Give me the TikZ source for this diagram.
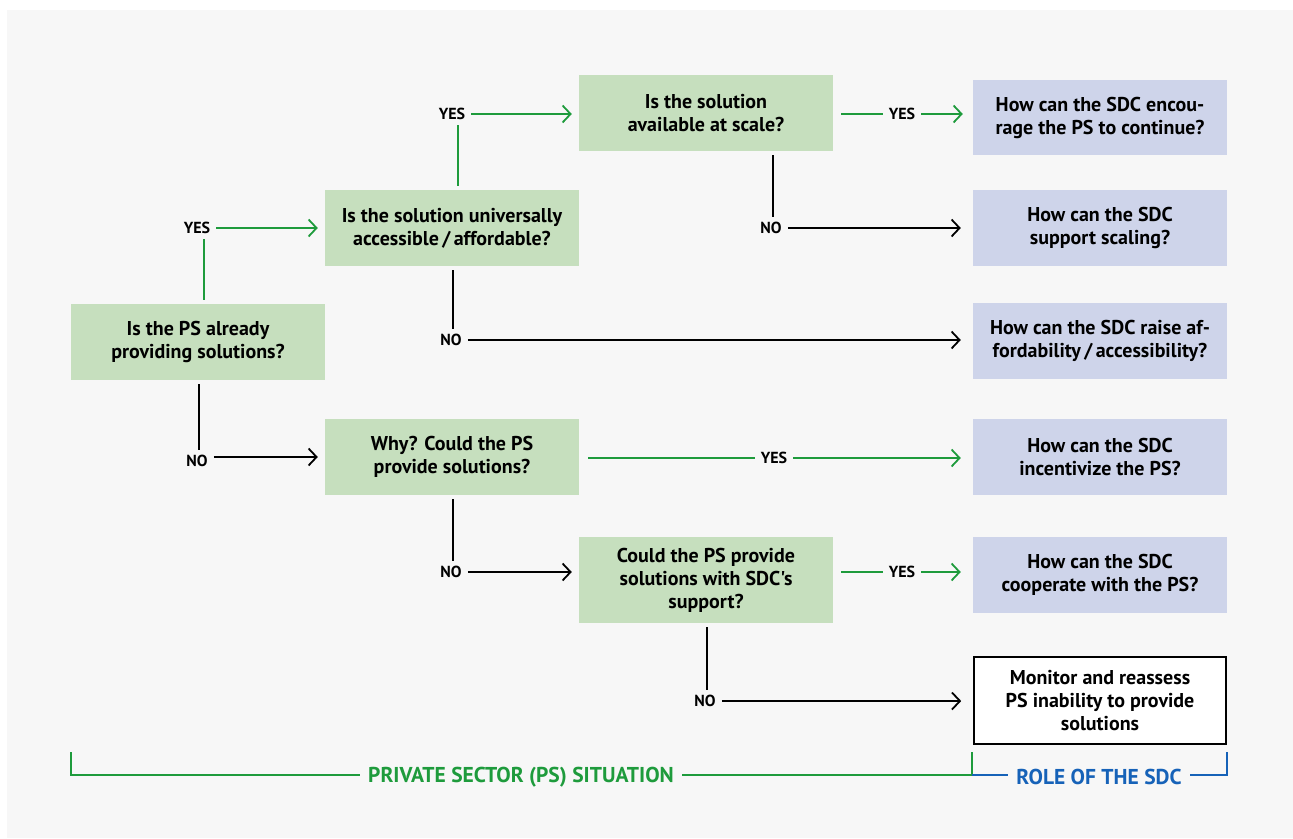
\documentclass[tikz,border=0pt]{standalone}
\usepackage{fontspec}
\setmainfont{PT Sans}
\newfontfamily\cf{PT Sans}
\usetikzlibrary{arrows.meta}
\definecolor{bgc}{HTML}{F7F7F7}
\definecolor{gfill}{HTML}{C6DFBE}
\definecolor{bfill}{HTML}{CED4EA}
\definecolor{gline}{HTML}{1E9B3C}
\definecolor{bline}{HTML}{1662B8}
\tikzset{
  q/.style={rectangle, fill=gfill, minimum width=254pt, minimum height=76pt, inner sep=0pt, align=center, font=\cf\bfseries\fontsize{20}{23}\selectfont},
  r/.style={q, fill=bfill},
  rw/.style={q, fill=white, draw=black, line width=1.6pt},
  lab/.style={inner sep=1pt, font=\cf\bfseries\fontsize{16}{18}\selectfont},
  gl/.style={draw=gline, line width=1.8pt},
  bl/.style={draw=black, line width=1.8pt},
  tip/.style={-{Straight Barb[length=8pt,width=17pt,line width=1.8pt]}},
  brk/.style={font=\cf\bfseries\fontsize{21.5}{24}\selectfont, inner sep=0pt, fill=bgc}
}
\begin{document}
\begin{tikzpicture}[x=1pt,y=-1pt]
\useasboundingbox (0,0) rectangle (1293,838);
\fill[white] (0,0) rectangle (1293,838);
\fill[bgc] (7,10) rectangle (1293,838);
% question boxes
\node[q] (A) at (198,342) {Is the PS already\\providing solutions?};
\node[q] (B) at (452,228) {Is the solution universally\\accessible\,/\,affordable?};
\node[q] (C) at (706,113) {Is the solution\\available at scale?};
\node[q] (D) at (452,457) {Why? Could the PS\\provide solutions?};
\node[q, minimum height=86pt] (E) at (706,580) {Could the PS provide\\solutions with SDC's\\support?};
% role boxes
\node[r, minimum height=75pt] (R1) at (1100,117.5) {How can the SDC encou-\\rage the PS to continue?};
\node[r] (R2) at (1100,228) {How can the SDC\\support scaling?};
\node[r] (R3) at (1100,341) {How can the SDC raise af-\\fordability\,/\,accessibility?};
\node[r] (R4) at (1100,457) {How can the SDC\\incentivize the PS?};
\node[r] (R5) at (1100,575) {How can the SDC\\cooperate with the PS?};
\node[rw, minimum width=252pt, minimum height=87pt] (R6) at (1100,700.5) {Monitor and reassess\\PS inability to provide\\solutions};
% labels
\node[lab] (yA) at (197,228) {YES};
\node[lab] (yB) at (452,114) {YES};
\node[lab] (yC) at (902,114) {YES};
\node[lab] (yD) at (774,458) {YES};
\node[lab] (yE) at (902,572) {YES};
\node[lab] (nA) at (197,461) {NO};
\node[lab] (nB) at (451,340) {NO};
\node[lab] (nC) at (771,228) {NO};
\node[lab] (nD) at (451,572) {NO};
\node[lab] (nE) at (705,701) {NO};
% A yes
\draw[gl, shorten <=4pt, shorten >=4pt] ([xshift=6pt]A.north) -- ([xshift=6pt]A.north |- yA.south);
\draw[gl, tip, shorten <=5pt, shorten >=7pt] (yA.east) -- (B.west |- yA);
% B yes
\draw[gl, shorten <=4pt, shorten >=4pt] ([xshift=6pt]B.north) -- ([xshift=6pt]B.north |- yB.south);
\draw[gl, tip, shorten <=5pt, shorten >=7pt] (yB.east) -- (C.west |- yB);
% C yes
\draw[gl, shorten <=8pt, shorten >=5pt] (C.east |- yC) -- (yC.west);
\draw[gl, tip, shorten <=5pt, shorten >=10pt] (yC.east) -- (R1.west |- yC);
% C no
\draw[bl, shorten <=4pt, shorten >=4pt] ([xshift=2pt]nC.north |- C.south) -- ([xshift=2pt]nC.north);
\draw[bl, tip, shorten <=5pt, shorten >=12pt] (nC.east) -- (R2.west |- nC);
% B no
\draw[bl, shorten <=4pt, shorten >=4pt] ([xshift=2pt]nB.north |- B.south) -- ([xshift=2pt]nB.north);
\draw[bl, tip, shorten <=5pt, shorten >=12pt] (nB.east) -- (R3.west |- nB);
% A no
\draw[bl, shorten <=4pt, shorten >=4pt] ([xshift=2pt]nA.north |- A.south) -- ([xshift=2pt]nA.north);
\draw[bl, tip, shorten <=5pt, shorten >=7pt] (nA.east |- D) -- (D.west);
% D yes
\draw[gl, shorten <=9pt, shorten >=5pt] (D.east |- yD) -- (yD.west);
\draw[gl, tip, shorten <=5pt, shorten >=12pt] (yD.east) -- (R4.west |- yD);
% D no
\draw[bl, shorten <=4pt, shorten >=4pt] ([xshift=2pt]nD.north |- D.south) -- ([xshift=2pt]nD.north);
\draw[bl, tip, shorten <=5pt, shorten >=7pt] (nD.east) -- (E.west |- nD);
% E yes
\draw[gl, shorten <=8pt, shorten >=5pt] (E.east |- yE) -- (yE.west);
\draw[gl, tip, shorten <=5pt, shorten >=12pt] (yE.east) -- (R5.west |- yE);
% E no
\draw[bl, shorten <=4pt, shorten >=4pt] ([xshift=2pt]nE.north |- E.south) -- ([xshift=2pt]nE.north);
\draw[bl, tip, shorten <=5pt, shorten >=12pt] (nE.east) -- (R6.west |- nE);
% brackets
\coordinate (g0) at (71,752);
\coordinate (g1) at (71,775);
\coordinate (g2) at (972,775);
\coordinate (g3) at (972,752);
\coordinate (b2) at (1227,775);
\coordinate (b3) at (1227,752);
\draw[gline, line width=1.8pt] (g0) -- (g1) -- (g2) -- (g3);
\draw[bline, line width=1.8pt] (g2) -- (b2) -- (b3);
\node[brk, text=gline, inner xsep=8pt] (ps) at (521,777) {PRIVATE SECTOR (PS) SITUATION};
\node[brk, text=bline, inner xsep=8pt] (sdc) at (1099,777) {ROLE OF THE SDC};
\end{tikzpicture}
\end{document}
